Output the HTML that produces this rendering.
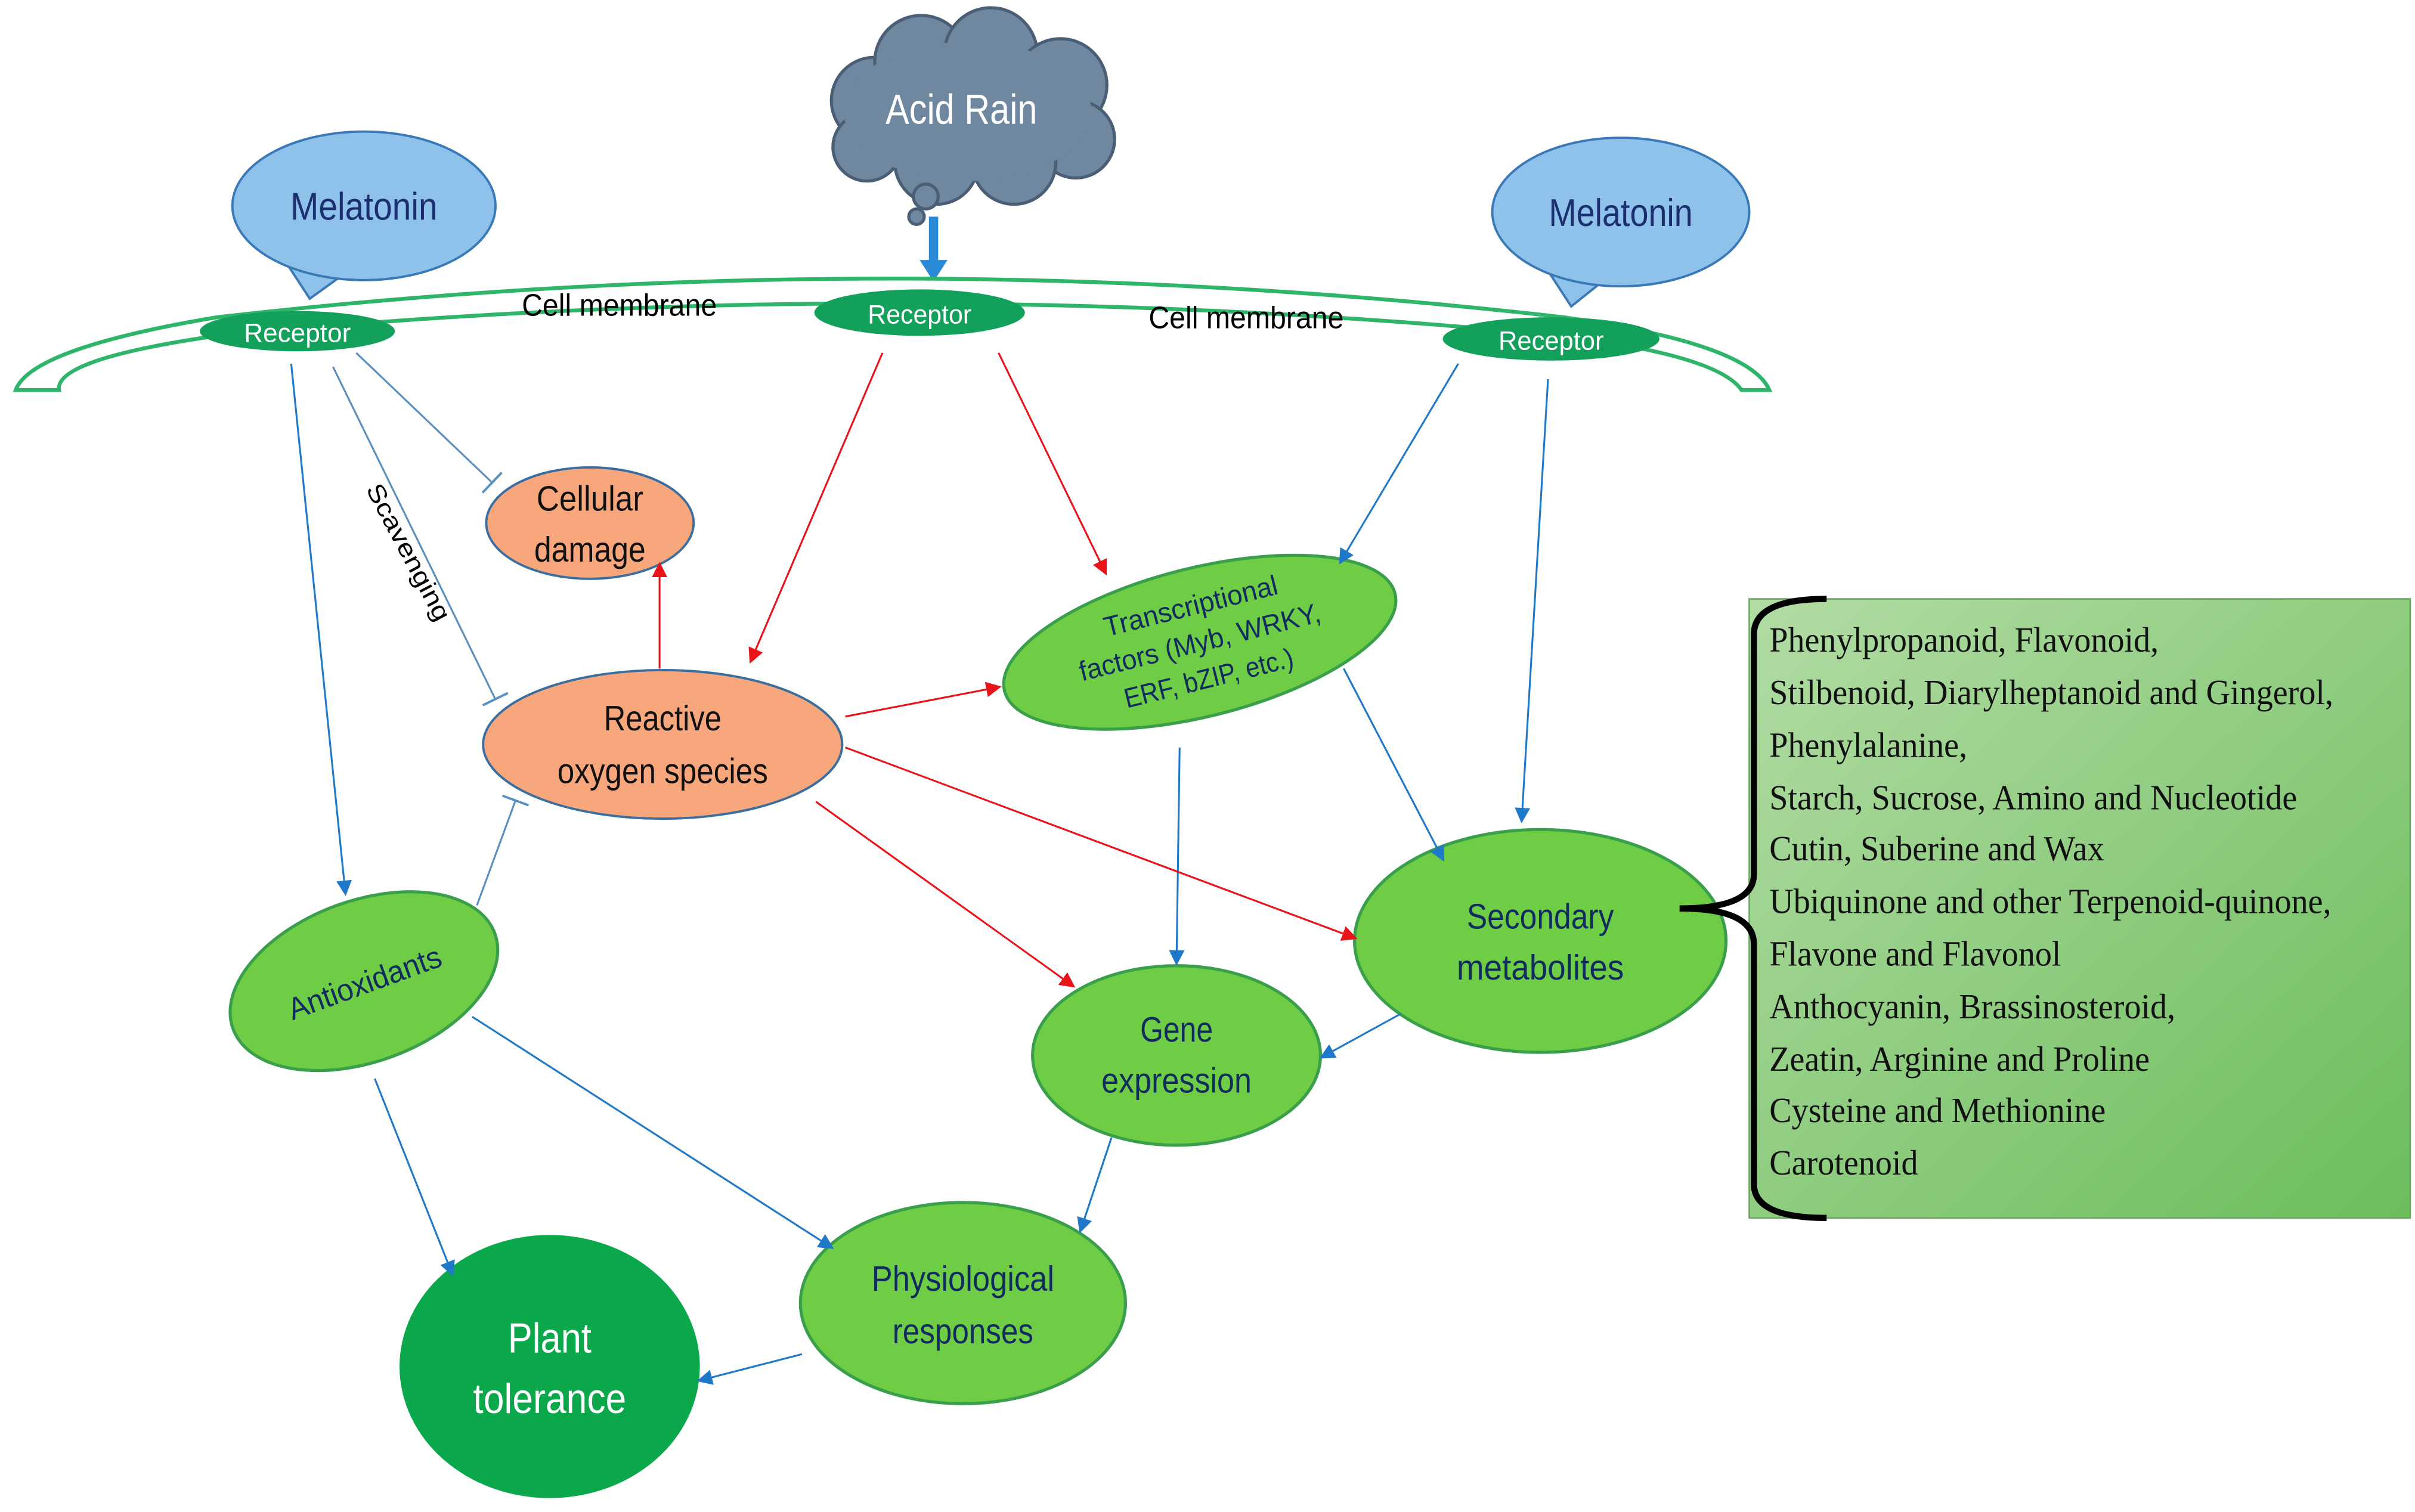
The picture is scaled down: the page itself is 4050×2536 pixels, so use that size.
<!DOCTYPE html>
<html><head><meta charset="utf-8"><style>
html,body{margin:0;padding:0;background:#fff;}
svg{display:block;}
.s{font-family:"Liberation Sans Narrow","Liberation Sans",sans-serif;}
.ser{font-family:"Liberation Serif",serif;font-size:23px;fill:#111;}
</style></head><body>
<svg width="4050" height="2536" viewBox="0 0 1560 977" xmlns="http://www.w3.org/2000/svg">
<defs>
<marker id="ab" markerWidth="10" markerHeight="10" refX="8" refY="5" orient="auto" markerUnits="userSpaceOnUse"><path d="M0,0 L10,5 L0,10 z" fill="#1f78c8"/></marker>
<marker id="ar" markerWidth="10" markerHeight="10" refX="8" refY="5" orient="auto" markerUnits="userSpaceOnUse"><path d="M0,0 L10,5 L0,10 z" fill="#e8141a"/></marker>
<marker id="tb" markerWidth="4" markerHeight="18" refX="2" refY="9" orient="auto" markerUnits="userSpaceOnUse"><rect x="1" y="0" width="1.5" height="18" fill="#5a8fc0"/></marker>
<linearGradient id="gb" x1="0" y1="0" x2="1" y2="1"><stop offset="0" stop-color="#b2dca4"/><stop offset="1" stop-color="#6cbd5c"/></linearGradient>
</defs>

<!-- cloud -->
<g fill="#6f889f" stroke="#4a5f75" stroke-width="2">
<circle cx="565" cy="65" r="28"/><circle cx="595" cy="40" r="30"/><circle cx="640" cy="35" r="30"/><circle cx="685" cy="55" r="30"/><circle cx="695" cy="90" r="25"/><circle cx="655" cy="105" r="27"/><circle cx="605" cy="105" r="27"/><circle cx="560" cy="95" r="22"/>
</g>
<ellipse cx="625" cy="72" rx="80" ry="45" fill="#6f889f"/>
<circle cx="598" cy="127" r="8" fill="#6f889f" stroke="#4a5f75" stroke-width="2"/>
<circle cx="592" cy="140" r="5" fill="#6f889f" stroke="#4a5f75" stroke-width="2"/>
<text x="621" y="80" class="s" font-size="27" fill="#fff" text-anchor="middle" textLength="98" lengthAdjust="spacingAndGlyphs">Acid Rain</text>
<path d="M600,140 L606,140 L606,168 L612,168 L603,182 L594,168 L600,168 z" fill="#2a8ad8"/>

<!-- membrane -->
<path d="M10,252 Q20,225 140,205 Q575,155 1010,205 Q1130,222 1143,252 L1125,252 Q1110,230 1010,217 Q575,175 140,217 Q35,232 38,252 z" fill="#fff" stroke="#2fb56a" stroke-width="2.5"/>

<!-- melatonin -->
<path d="M185,170 L200,193 L225,175 z" fill="#8ec2ea" stroke="#3a79b8" stroke-width="1.5"/>
<ellipse cx="235" cy="133" rx="85" ry="48" fill="#8ec2ea" stroke="#3a79b8" stroke-width="1.5"/>
<text x="235" y="142" class="s" font-size="25" fill="#1b2f6e" text-anchor="middle" textLength="95" lengthAdjust="spacingAndGlyphs">Melatonin</text>
<path d="M1000,175 L1015,198 L1040,178 z" fill="#8ec2ea" stroke="#3a79b8" stroke-width="1.5"/>
<ellipse cx="1047" cy="137" rx="83" ry="48" fill="#8ec2ea" stroke="#3a79b8" stroke-width="1.5"/>
<text x="1047" y="146" class="s" font-size="25" fill="#1b2f6e" text-anchor="middle" textLength="93" lengthAdjust="spacingAndGlyphs">Melatonin</text>

<!-- receptors -->
<ellipse cx="192" cy="214" rx="63" ry="13" fill="#12a05a"/>
<text x="192" y="221" class="s" font-size="17" fill="#fff" text-anchor="middle" textLength="69" lengthAdjust="spacingAndGlyphs">Receptor</text>
<ellipse cx="594" cy="202" rx="68" ry="15" fill="#12a05a"/>
<text x="594" y="209" class="s" font-size="17" fill="#fff" text-anchor="middle" textLength="67" lengthAdjust="spacingAndGlyphs">Receptor</text>
<ellipse cx="1002" cy="219" rx="70" ry="14" fill="#12a05a"/>
<text x="1002" y="226" class="s" font-size="17" fill="#fff" text-anchor="middle" textLength="68" lengthAdjust="spacingAndGlyphs">Receptor</text>
<text x="400" y="204" class="s" font-size="20" fill="#000" text-anchor="middle" textLength="126" lengthAdjust="spacingAndGlyphs">Cell membrane</text>
<text x="805" y="212" class="s" font-size="20" fill="#000" text-anchor="middle" textLength="126" lengthAdjust="spacingAndGlyphs">Cell membrane</text>

<g stroke="#5a8fc0" stroke-width="1.2" fill="none" marker-end="url(#tb)">
<line x1="215" y1="237" x2="320" y2="452"/>
<line x1="230" y1="228" x2="318" y2="312"/>
<line x1="308" y1="585" x2="333" y2="517"/>
</g>
<text transform="translate(236,316) rotate(62)" class="s" font-size="16" fill="#000" textLength="98" lengthAdjust="spacingAndGlyphs">Scavenging</text>

<!-- nodes -->
<g class="s" text-anchor="middle">
<ellipse cx="381" cy="338" rx="67" ry="36" fill="#f8a77c" stroke="#3b6ea0" stroke-width="1.5"/>
<text x="381" y="330" font-size="23" fill="#111" textLength="69" lengthAdjust="spacingAndGlyphs">Cellular</text>
<text x="381" y="363" font-size="23" fill="#111" textLength="72" lengthAdjust="spacingAndGlyphs">damage</text>
<ellipse cx="428" cy="481" rx="116" ry="48" fill="#f8a77c" stroke="#3b6ea0" stroke-width="1.5"/>
<text x="428" y="472" font-size="23" fill="#111" textLength="76" lengthAdjust="spacingAndGlyphs">Reactive</text>
<text x="428" y="506" font-size="23" fill="#111" textLength="136" lengthAdjust="spacingAndGlyphs">oxygen species</text>

<g transform="translate(775,415) rotate(-14)">
<ellipse rx="130" ry="48" fill="#6fcd45" stroke="#3a9f4a" stroke-width="2"/>
<text y="-18" font-size="18" fill="#102c5e" textLength="115" lengthAdjust="spacingAndGlyphs">Transcriptional</text>
<text y="6" font-size="18" fill="#102c5e" textLength="160" lengthAdjust="spacingAndGlyphs">factors (Myb, WRKY,</text>
<text y="30" font-size="18" fill="#102c5e" textLength="112" lengthAdjust="spacingAndGlyphs">ERF, bZIP, etc.)</text>
</g>
<ellipse cx="995" cy="608" rx="120" ry="72" fill="#6fcd45" stroke="#3a9f4a" stroke-width="2"/>
<text x="995" y="600" font-size="23" fill="#102c5e" textLength="95" lengthAdjust="spacingAndGlyphs">Secondary</text>
<text x="995" y="633" font-size="23" fill="#102c5e" textLength="108" lengthAdjust="spacingAndGlyphs">metabolites</text>
<ellipse cx="760" cy="682" rx="93" ry="58" fill="#6fcd45" stroke="#3a9f4a" stroke-width="2"/>
<text x="760" y="673" font-size="23" fill="#102c5e" textLength="47" lengthAdjust="spacingAndGlyphs">Gene</text>
<text x="760" y="706" font-size="23" fill="#102c5e" textLength="97" lengthAdjust="spacingAndGlyphs">expression</text>
<g transform="translate(235,634) rotate(-20)">
<ellipse rx="90" ry="52" fill="#6fcd45" stroke="#3a9f4a" stroke-width="2"/>
<text y="8" font-size="20" fill="#102c5e" textLength="104" lengthAdjust="spacingAndGlyphs">Antioxidants</text>
</g>
<ellipse cx="622" cy="842" rx="105" ry="65" fill="#6fcd45" stroke="#3a9f4a" stroke-width="2"/>
<text x="622" y="834" font-size="23" fill="#102c5e" textLength="118" lengthAdjust="spacingAndGlyphs">Physiological</text>
<text x="622" y="868" font-size="23" fill="#102c5e" textLength="91" lengthAdjust="spacingAndGlyphs">responses</text>
<ellipse cx="355" cy="883" rx="97" ry="85" fill="#0aa84a"/>
<text x="355" y="874" font-size="27" fill="#fff" textLength="54" lengthAdjust="spacingAndGlyphs">Plant</text>
<text x="355" y="913" font-size="27" fill="#fff" textLength="99" lengthAdjust="spacingAndGlyphs">tolerance</text>
</g>

<!-- arrows blue -->
<g stroke="#1f78c8" stroke-width="1.2" fill="none" marker-end="url(#ab)">
<line x1="188" y1="235" x2="223" y2="577"/>
<line x1="942" y1="235" x2="866" y2="363"/>
<line x1="1000" y1="245" x2="983" y2="530"/>
<line x1="868" y1="432" x2="932" y2="555"/>
<line x1="762" y1="483" x2="760" y2="622"/>
<line x1="905" y1="655" x2="854" y2="683"/>
<line x1="718" y1="735" x2="698" y2="795"/>
<line x1="242" y1="697" x2="292" y2="823"/>
<line x1="305" y1="657" x2="537" y2="806"/>
<line x1="518" y1="875" x2="452" y2="892"/>
</g>
<!-- red -->
<g stroke="#e8141a" stroke-width="1.2" fill="none" marker-end="url(#ar)">
<line x1="570" y1="228" x2="485" y2="427"/>
<line x1="645" y1="228" x2="714" y2="370"/>
<line x1="426" y1="432" x2="426" y2="365"/>
<line x1="546" y1="463" x2="645" y2="444"/>
<line x1="546" y1="483" x2="875" y2="606"/>
<line x1="527" y1="518" x2="693" y2="637"/>
</g>

<!-- box -->
<rect x="1130" y="387" width="427" height="400" fill="url(#gb)" stroke="#6aa860" stroke-width="1"/>
<path d="M1180,387 Q1133,387 1133,410 L1133,565 Q1133,587 1085,587 Q1133,587 1133,610 L1133,765 Q1133,787 1180,787" fill="none" stroke="#000" stroke-width="4"/>
<g class="ser" transform="translate(1143,0) scale(0.94,1) translate(-1143,0)">
<text x="1143" y="421">Phenylpropanoid, Flavonoid,</text>
<text x="1143" y="455">Stilbenoid, Diarylheptanoid and Gingerol,</text>
<text x="1143" y="489">Phenylalanine,</text>
<text x="1143" y="523">Starch, Sucrose, Amino  and Nucleotide</text>
<text x="1143" y="556">Cutin, Suberine and Wax</text>
<text x="1143" y="590">Ubiquinone and other Terpenoid-quinone,</text>
<text x="1143" y="624">Flavone and Flavonol</text>
<text x="1143" y="658">Anthocyanin, Brassinosteroid,</text>
<text x="1143" y="692">Zeatin,  Arginine and Proline</text>
<text x="1143" y="725">Cysteine and Methionine</text>
<text x="1143" y="759">Carotenoid</text>
</g>
</svg>
</body></html>
